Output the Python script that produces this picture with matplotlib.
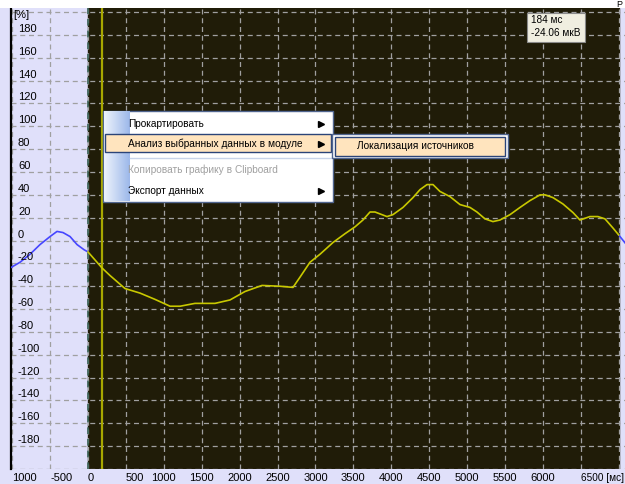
import numpy as np
import matplotlib
matplotlib.use("Agg")
import matplotlib.pyplot as plt
from matplotlib.patches import Rectangle
from matplotlib.transforms import blended_transform_factory, offset_copy

plt.rcParams["font.family"] = ["Liberation Sans", "DejaVu Sans"]

# --- data ---
t_ms = [-1016, -897, -765, -633, -501, -409, -330, -237, -145, -53, 0,
        185, 290, 488, 686, 884, 1082, 1214, 1411, 1675, 1873, 2071,
        2295, 2533, 2704, 2797, 2928, 3060, 3232, 3390, 3522, 3627, 3720,
        3786, 3944, 4023, 4155, 4287, 4380, 4472, 4551, 4643, 4775, 4907,
        5039, 5131, 5237, 5342, 5435, 5567, 5699, 5831, 5963, 6029, 6134,
        6266, 6398, 6490, 6621, 6727, 6820, 6925, 7000, 7084]
amp = [-23.6, -19, -12, -3.5, 3.5, 8, 7, 3.5, -3.5, -8, -10,
       -24, -30.6, -42, -46, -51.5, -57.5, -57.5, -55, -55, -52, -44.6,
       -39.3, -40, -41, -32, -19, -12, -1.7, 6, 12, 18, 25,
       25, 21, 22.7, 29, 37.6, 44.6, 49, 49, 43, 38.5, 31.5,
       29, 25, 19, 16.6, 18, 22.7, 29, 35, 40, 40, 37.6,
       32, 24.5, 18, 21, 21, 19, 11, 5, -2]

epoch_start, epoch_end = 0, 7000
cursor_t = 184
cursor_v = -24.06

x_ticks = list(range(-1000, 7001, 500))
x_labels = ["1000", "-500", "0", "500", "1000", "1500", "2000", "2500", "3000",
            "3500", "4000", "4500", "5000", "5500", "6000", "6500 [мс]", ""]
y_grid = list(range(-200, 201, 20))
y_labels = list(range(180, -181, -20))

menu_items = ["Прокартировать", "Анализ выбранных данных в модуле",
              "Копировать графику в Clipboard", "Экспорт данных"]
submenu_item = "Локализация источников"

# --- colours ---
lavender = "#E0E0FA"
dark = "#201C08"
yellow = "#C8C800"
blue = "#4646FF"
grid_c = "#A0A0A0"

W, H = 625, 484
fig = plt.figure(figsize=(W / 100, H / 100), dpi=100, facecolor=lavender)
ax = fig.add_axes([11 / W, 15 / H, 614 / W, 461 / H])
ax.set_facecolor(lavender)
ax.set_xlim(-1016, 7084)
ax.set_ylim(-199.2, 203.6)

ax.axvspan(epoch_start, epoch_end, color=dark, zorder=0.5)

t = np.array(t_ms, dtype=float)
v = np.array(amp)
inside = (t >= epoch_start) & (t <= epoch_end)
pre = t <= epoch_start
post = t >= epoch_end
ax.plot(t[pre], v[pre], color=blue, lw=1.2, zorder=3)
ax.plot(t[post], v[post], color=blue, lw=1.2, zorder=3)
ax.plot(t[inside], v[inside], color=yellow, lw=1.2, zorder=3)
ax.axvline(cursor_t, color="#A8A800", lw=1.6, zorder=2.5)

ax.set_xticks(x_ticks)
ax.set_xticklabels(x_labels, fontsize=8)
ax.set_yticks(y_grid)
ax.tick_params(axis="y", left=False, labelleft=False)
ax.tick_params(axis="x", length=0, pad=3)
for lbl, tk in zip(ax.get_xticklabels(), x_ticks):
    if tk < 1000 or tk == 6500:
        lbl.set_ha("left")
    if tk == 6500:
        lbl.set_fontsize(7.2)
ax.grid(True, color=grid_c, ls=(0, (4, 3)), lw=0.9)
# boundary of the epoch drawn a bit darker, as in the source program
ax.axvline(epoch_start, color="#3C6458", ls=(0, (4, 3)), lw=1.2, zorder=1.6)

for s in ["top", "right", "bottom"]:
    ax.spines[s].set_visible(False)
ax.spines["left"].set_color("black")
ax.spines["left"].set_linewidth(1.6)

ytr = offset_copy(blended_transform_factory(ax.transAxes, ax.transData),
                  fig=fig, x=0, y=1, units="dots")
for yv in y_labels:
    ax.text(0.0114, yv, str(yv), transform=ytr, fontsize=8,
            ha="left", va="bottom", color="black", zorder=4)

# --- overlay in pixel coordinates for the UI pieces ---
ov = fig.add_axes([0, 0, 1, 1], zorder=10)
ov.set_xlim(0, W)
ov.set_ylim(H, 0)
ov.axis("off")
ov.patch.set_alpha(0)

ov.add_patch(Rectangle((0, 0), W, 8, facecolor="white", edgecolor="none"))
ov.text(13, 10, "[%]", fontsize=8, ha="left", va="top")
ov.text(616, 0, "Р", fontsize=6.5, ha="left", va="top")

# tooltip
ov.add_patch(Rectangle((527, 13), 58, 29, facecolor="#F0EEE0", edgecolor="#8A8A8A", lw=0.8))
ov.text(531, 20, f"{cursor_t} мс", fontsize=7.2, va="center")
ov.text(531, 33, f"{cursor_v:.2f} мкВ", fontsize=7.2, va="center")

# context menu
ov.add_patch(Rectangle((103, 111), 230, 91, facecolor="white", edgecolor="#50658F", lw=1))
grad = np.linspace(0, 1, 64).reshape(1, -1)
cmap = matplotlib.colors.LinearSegmentedColormap.from_list("strip", ["#EEF3FC", "#9CB8EA"])
ov.imshow(grad, cmap=cmap, extent=(104, 130, 201.5, 111.5), aspect="auto", zorder=2)
ov.add_patch(Rectangle((105, 134), 226, 18, facecolor="#FFE4BE", edgecolor="#2B4478", lw=1, zorder=3))
ov.plot([130, 331], [158, 158], color="#C8D4EA", lw=1, zorder=3)
item_y = [124, 143.5, 170, 190.5]
item_col = ["black", "black", "#A0A0A0", "black"]
for txt, yy, c in zip(menu_items, item_y, item_col):
    ov.text(128, yy, txt, fontsize=7.3, color=c, va="center", zorder=4)
for yy in [item_y[0], item_y[1], item_y[3]]:
    ov.plot(321, yy, marker=">", ms=4, color="black", zorder=4)

# submenu
ov.add_patch(Rectangle((332, 134), 176, 24, facecolor="white", edgecolor="#50658F", lw=1, zorder=3))
ov.add_patch(Rectangle((335, 136.5), 170, 19, facecolor="#FFE4BE", edgecolor="#2B4478", lw=1, zorder=4))
ov.text(357, 146, submenu_item, fontsize=7.3, va="center", zorder=5)

fig.savefig("out.png", dpi=100, facecolor=lavender)
